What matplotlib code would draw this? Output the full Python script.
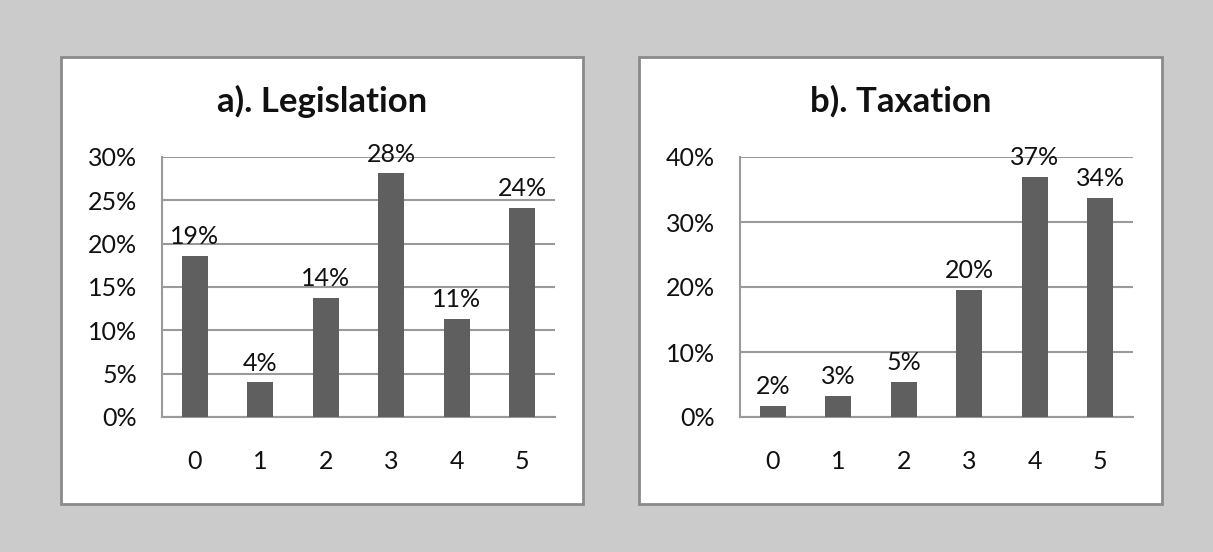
import matplotlib.pyplot as plt
from matplotlib.patches import Rectangle
from matplotlib.ticker import FuncFormatter, MultipleLocator

# Share of responses per score, one chart per policy area
scores = ['0', '1', '2', '3', '4', '5']
legislation = [0.186, 0.040, 0.137, 0.281, 0.113, 0.241]
taxation = [0.017, 0.032, 0.054, 0.196, 0.369, 0.337]
titles = ['a). Legislation', 'b). Taxation']

plt.rcParams['font.family'] = ['Lato', 'DejaVu Sans']

W, H = 1213, 552
fig = plt.figure(figsize=(W / 100, H / 100), dpi=100)
fig.patch.set_facecolor('#cbcbcb')

BAR = '#5f5f5f'
GRID = '#9a9a9a'
BORDER = '#8a8a8a'
INK = '#111111'


def px_box(x0, y0, x1, y1):
    """Pixel box (top-left origin) -> figure fraction [l, b, w, h]."""
    return [x0 / W, 1 - y1 / H, (x1 - x0) / W, (y1 - y0) / H]


def draw_panel(frame, plot, title, values, ymax, step):
    # white card behind each chart
    l, b, w, h = px_box(*frame)
    fig.patches.append(Rectangle((l, b), w, h, transform=fig.transFigure,
                                 facecolor='white', edgecolor=BORDER,
                                 linewidth=2, zorder=-1))
    ax = fig.add_axes(px_box(*plot))
    ax.set_zorder(2)
    ax.set_facecolor('none')
    x = range(len(scores))
    ax.bar(x, values, width=0.4, color=BAR, zorder=3)
    for xi, v in zip(x, values):
        ax.text(xi, v + ymax * 0.03, '{:.0%}'.format(v), ha='center',
                va='bottom', fontsize=18, color=INK)
    ax.set_xlim(-0.5, len(scores) - 0.5)
    ax.set_ylim(0, ymax)
    ax.yaxis.set_major_locator(MultipleLocator(step))
    ax.yaxis.set_major_formatter(FuncFormatter(lambda v, _: '{:.0f}%'.format(v * 100)))
    ax.set_xticks(list(x))
    ax.set_xticklabels(scores)
    ax.set_axisbelow(True)
    ax.grid(axis='y', color=GRID, linewidth=1.5)
    for side in ['top', 'right']:
        ax.spines[side].set_visible(False)
    for side in ['left', 'bottom']:
        ax.spines[side].set_color(GRID)
        ax.spines[side].set_linewidth(1.5)
    ax.tick_params(length=0, labelsize=18, colors=INK)
    ax.tick_params(axis='y', pad=18)
    ax.tick_params(axis='x', pad=24)
    cx = (frame[0] + frame[2]) / 2 / W
    fig.text(cx, 1 - 101 / H, title, ha='center', va='center',
             fontsize=25, fontweight='bold', color=INK, zorder=3)
    return ax


draw_panel((61, 57, 583, 504), (162, 157, 555, 417), titles[0], legislation, 0.30, 0.05)
draw_panel((639, 57, 1162, 504), (740, 157, 1133, 417), titles[1], taxation, 0.40, 0.10)

fig.savefig('out.png', dpi=100, facecolor=fig.get_facecolor())
